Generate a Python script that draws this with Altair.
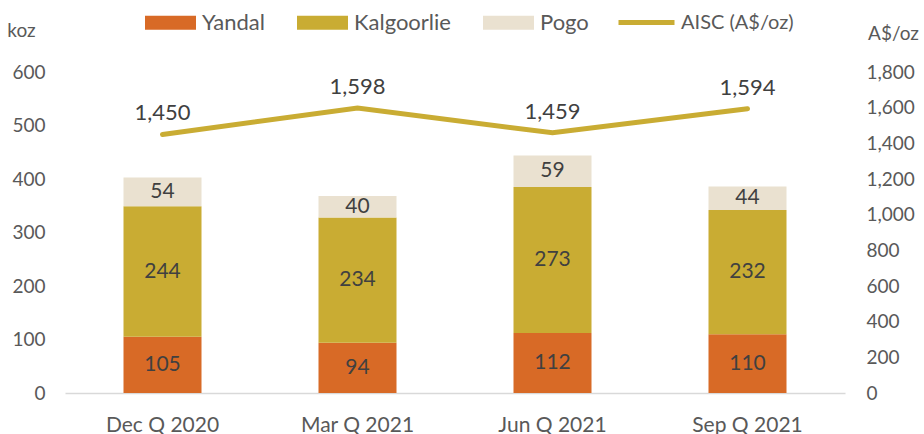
import altair as alt
import pandas as pd

quarters = ["Dec Q 2020", "Mar Q 2021", "Jun Q 2021", "Sep Q 2021"]
yandal = [105, 94, 112, 110]
kalgoorlie = [244, 234, 273, 232]
pogo = [54, 40, 59, 44]
aisc = [1450, 1598, 1459, 1594]

mines = ["Yandal", "Kalgoorlie", "Pogo"]
mine_colors = ["#D86A26", "#C9AC33", "#EAE1D0"]
line_color = "#C9AC33"
line_name = "AISC (A$/oz)"

rows = []
for i, q in enumerate(quarters):
    for k, (m, vals) in enumerate(zip(mines, [yandal, kalgoorlie, pogo])):
        rows.append({"quarter": q, "mine": m, "koz": vals[i], "order": k})
bars_df = pd.DataFrame(rows)
line_df = pd.DataFrame({"quarter": quarters, "aisc": aisc, "series": [line_name] * len(quarters)})

FONT = "Lato"
AXIS_GREY = "#595959"
LABEL_DARK = "#404040"

x_enc = alt.X(
    "quarter:N",
    sort=quarters,
    title=None,
    scale=alt.Scale(paddingInner=0.6, paddingOuter=0.3),
    axis=alt.Axis(
        labelAngle=0, labelFontSize=21, labelColor=AXIS_GREY, labelPadding=21,
        ticks=False, domainColor="#D9D9D9", domainWidth=1.5, labelFont=FONT,
    ),
)

left_axis = alt.Axis(
    title="koz", titleAngle=0, titleX=-44, titleY=-42, titleAlign="center",
    titleBaseline="middle", titleFontSize=19, titleFontWeight="normal",
    titleColor=AXIS_GREY, titleFont=FONT,
    values=[0, 100, 200, 300, 400, 500, 600],
    labelFontSize=19, labelColor=AXIS_GREY, labelPadding=20, labelFont=FONT,
    ticks=False, domain=False, grid=False,
)
right_axis = alt.Axis(
    title="A$/oz", orient="right", titleAngle=0, titleX=48, titleY=-39,
    titleAlign="center", titleBaseline="middle", titleFontSize=19,
    titleFontWeight="normal", titleColor=AXIS_GREY, titleFont=FONT,
    values=[0, 200, 400, 600, 800, 1000, 1200, 1400, 1600, 1800], format=",.0f",
    labelFontSize=19, labelColor=AXIS_GREY, labelPadding=21, labelFont=FONT,
    ticks=False, domain=False, grid=False,
)

koz_scale = alt.Scale(domain=[0, 600], nice=False)
aisc_scale = alt.Scale(domain=[0, 1800], nice=False)

bars = alt.Chart(bars_df).mark_bar().encode(
    x=x_enc,
    y=alt.Y("koz:Q", stack="zero", scale=koz_scale, axis=left_axis),
    color=alt.Color(
        "mine:N",
        scale=alt.Scale(domain=mines, range=mine_colors),
        legend=alt.Legend(
            orient="none", legendX=80, legendY=-75, direction="horizontal",
            title=None, symbolType="M-1,-0.2745H1V0.2745H-1Z", symbolSize=2601,
            symbolStrokeWidth=0, symbolOpacity=1, labelFontSize=22,
            labelColor=AXIS_GREY, labelFont=FONT, labelOffset=6,
            columnPadding=32, padding=0,
        ),
    ),
    order=alt.Order("order:Q"),
)

bar_labels = (
    alt.Chart(bars_df)
    .transform_stack(
        stack="koz", groupby=["quarter"], as_=["y0", "y1"],
        sort=[alt.SortField("order", order="ascending")],
    )
    .transform_calculate(mid="(datum.y0 + datum.y1) / 2")
    .mark_text(fontSize=21, color=LABEL_DARK, font=FONT, baseline="middle")
    .encode(
        x=x_enc,
        y=alt.Y("mid:Q", scale=koz_scale, axis=left_axis),
        text=alt.Text("koz:Q"),
    )
)

line = alt.Chart(line_df).mark_line(strokeWidth=5, strokeCap="round").encode(
    x=x_enc,
    y=alt.Y("aisc:Q", scale=aisc_scale, axis=right_axis),
    stroke=alt.Stroke(
        "series:N",
        scale=alt.Scale(domain=[line_name], range=[line_color]),
        legend=alt.Legend(
            orient="none", legendX=551, legendY=-80, direction="horizontal",
            title=None, symbolType="stroke", symbolSize=3136,
            symbolStrokeWidth=5, labelFontSize=20, labelColor=AXIS_GREY,
            labelFont=FONT, labelOffset=4, padding=0,
        ),
    ),
)

line_labels = alt.Chart(line_df).mark_text(
    fontSize=22, color=LABEL_DARK, font=FONT, dy=-21, baseline="middle"
).encode(
    x=x_enc,
    y=alt.Y("aisc:Q", scale=aisc_scale, axis=right_axis),
    text=alt.Text("aisc:Q", format=","),
)

chart = (
    alt.layer(alt.layer(bars, bar_labels), alt.layer(line, line_labels))
    .resolve_scale(y="independent")
    .properties(
        width=780, height=321,
        autosize=alt.AutoSizeParams(type="none"),
        padding={"left": 65, "top": 72, "right": 79, "bottom": 41},
        background="white",
    )
    .configure(font=FONT, view=alt.ViewConfig(strokeWidth=0, stroke="transparent"))
)

chart.save("out.html", embed_options={"renderer": "svg", "actions": False})
